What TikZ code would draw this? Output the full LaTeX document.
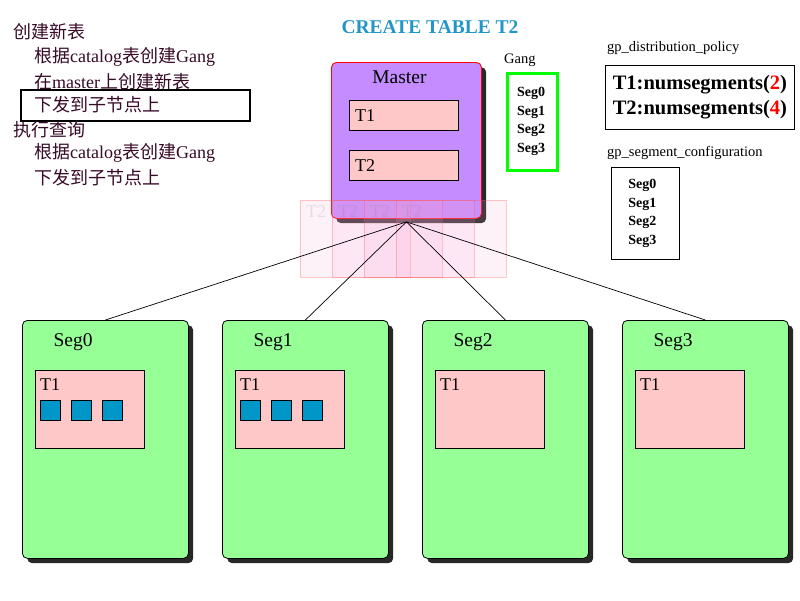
\documentclass[tikz,border=0pt]{standalone}
\usepackage{fontspec}
\setmainfont{Liberation Serif}
\newfontfamily\cjk{Noto Sans CJK SC}
\usetikzlibrary{positioning}
\definecolor{titleblue}{RGB}{35,150,200}
\definecolor{masterfill}{RGB}{196,140,255}
\definecolor{tabpink}{RGB}{255,200,200}
\definecolor{seggreen}{RGB}{150,255,150}
\definecolor{cellblue}{RGB}{0,150,200}
\definecolor{stepink}{RGB}{55,10,40}
\definecolor{shadowgray}{RGB}{40,40,40}
\newcommand{\zh}[1]{{\cjk #1}}
\tikzset{
  every node/.style={inner sep=0pt},
  steptext/.style={anchor=west,text=stepink,font=\fontsize{18}{22}\selectfont},
  hlbox/.style={draw,line width=1.6pt,anchor=north west,minimum width=229pt,minimum height=31pt},
  boxshadow/.style={fill=shadowgray,anchor=north west,rounded corners=5pt},
  masterbox/.style={draw=red,line width=.9pt,fill=masterfill,rounded corners=5pt,anchor=north west,
    minimum width=150pt,minimum height=156pt},
  segbox/.style={draw,line width=.8pt,fill=seggreen,rounded corners=5pt,anchor=north west,
    minimum width=166pt,minimum height=238pt},
  tab/.style={draw,line width=.8pt,fill=tabpink,anchor=north west,minimum width=109pt,minimum height=30pt},
  ghost/.style={draw=red!70,draw opacity=.3,fill=magenta!35,fill opacity=.15,anchor=north west,
    minimum width=110pt,minimum height=77pt},
  ghostlab/.style={text=gray,text opacity=.2,font=\fontsize{18}{20}\selectfont},
  tablab/.style={font=\fontsize{18}{20}\selectfont},
  bigtext/.style={font=\fontsize{19.5}{22}\selectfont},
  cell/.style={draw,line width=.8pt,fill=cellblue,minimum size=20pt},
  link/.style={line width=.7pt},
  small/.style={anchor=west,font=\fontsize{14.5}{16}\selectfont},
  seglist/.style={align=left,font=\fontsize{14}{18.5}\selectfont\bfseries},
  listbox/.style={draw,line width=.8pt,anchor=north west}
}
\begin{document}
\begin{tikzpicture}[x=1pt,y=-1pt]
\useasboundingbox (0,0) rectangle (800,600);

% steps on the left
\node[steptext] (create) at (13,32) {\zh{创建新表}};
\node[steptext] (create1) at (34,57) {\zh{根据}catalog\zh{表创建}Gang};
\node[steptext] (create2) at (34,82) {\zh{在}master\zh{上创建新表}};
\node[hlbox] (hl) at (20,89) {};
\node[steptext] (create3) at (34,105) {\zh{下发到子节点上}};
\node[steptext] (query) at (13,130) {\zh{执行查询}};
\node[steptext] (query1) at (34,153) {\zh{根据}catalog\zh{表创建}Gang};
\node[steptext] (query2) at (34,178) {\zh{下发到子节点上}};

% title
\node[text=titleblue,font=\fontsize{19.5}{22}\selectfont\bfseries] (title) at (430,27) {CREATE TABLE T2};

% master
\node[boxshadow,minimum width=150pt,minimum height=156pt] (mastershadow) at (336,67) {};
\node[masterbox] (master) at (331,62) {};
\node[bigtext,below=9pt of master.north,xshift=-7pt] (masterlab) {Master};
\node[tab] (mt1) at (349,100) {};
\node[tablab,right=6pt of mt1.west] (mt1lab) {T1};
\node[tab] (mt2) at (349,150) {};
\node[tablab,right=6pt of mt2.west] (mt2lab) {T2};

% gang
\node[small] (ganglab) at (504,60) {Gang};
\node[draw=green,line width=3pt,anchor=north west,minimum width=50pt,minimum height=97pt] (gang) at (505.5,71.5) {};
\node[seglist] (ganglist) at ([xshift=-1pt]gang.center) {Seg0\\Seg1\\Seg2\\Seg3};

% catalog tables
\node[small] (policylab) at (607,48) {gp\_distribution\_policy};
\node[listbox,minimum width=189pt,minimum height=64pt] (policy) at (605,65) {};
\node[align=left,font=\fontsize{20.5}{25}\selectfont\bfseries] (policytext) at (policy.center)
  {T1:numsegments(\textcolor{red}{2})\\T2:numsegments(\textcolor{red}{4})};
\node[small] (conflab) at (607,153) {gp\_segment\_configuration};
\node[listbox,minimum width=68pt,minimum height=92pt] (conf) at (611,167) {};
\node[seglist] (conflist) at ([xshift=-3pt]conf.center) {Seg0\\Seg1\\Seg2\\Seg3};

% segments
\foreach \i/\x in {0/22,1/222,2/422,3/622} {
  \node[boxshadow,minimum width=166pt,minimum height=238pt] (segshadow\i) at (\x+5,325) {};
  \node[segbox] (seg\i) at (\x,320) {};
  \node[bigtext] (seglab\i) at (\x+51,342) {Seg\i};
  \node[tab,minimum height=78pt] (tab\i) at (\x+13,370) {};
  \node[tablab,below right=8pt and 5pt of tab\i.north west] (tablab\i) {T1};
}
\foreach \i in {0,1} {
  \node[cell,below right=30pt and 5pt of tab\i.north west] (cell\i0) {};
  \node[cell,right=10pt of cell\i0] (cell\i1) {};
  \node[cell,right=10pt of cell\i1] (cell\i2) {};
}

% T2 on its way
\foreach \k in {0,...,3} {
  \node[ghost] (ghost\k) at (300+32*\k,200) {};
  \node[ghostlab,below right=5pt and 6pt of ghost\k.north west] (ghostlab\k) {T2};
}

\coordinate (fan) at ([yshift=-3pt]master.south);
\foreach \i in {0,...,3}
  \draw[link] (fan) -- (seg\i.north);

\end{tikzpicture}
\end{document}
